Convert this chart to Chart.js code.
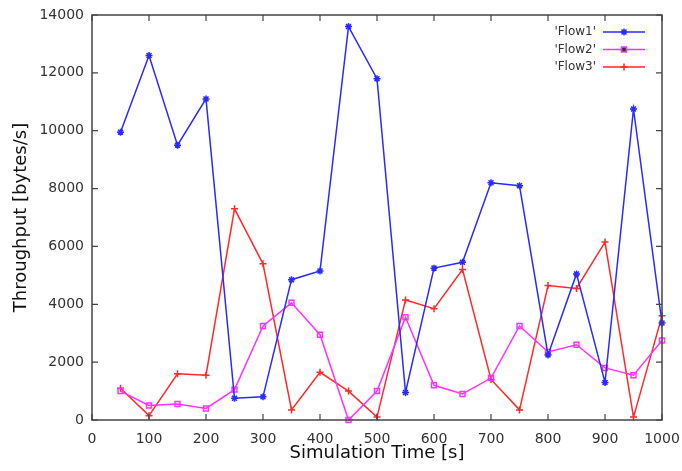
<!DOCTYPE html>
<html>
<head>
<meta charset="utf-8">
<script src="https://cdn.jsdelivr.net/npm/chart.js@4"></script>
<style>
  html, body { margin: 0; padding: 0; background: #fff; }
  #wrap { width: 682px; height: 471px; }
</style>
</head>
<body>
<div id="wrap"><canvas id="chartCanvas"></canvas></div>
<script>
var times = [50,100,150,200,250,300,350,400,450,500,550,600,650,700,750,800,850,900,950,1000];
var flow1 = [9950,12600,9500,11100,750,800,4850,5150,13600,11800,950,5250,5450,8200,8100,2250,5050,1300,10750,3350];
var flow2 = [1000,500,550,400,1050,3250,4050,2950,0,1000,3550,1200,900,1450,3250,2350,2600,1800,1550,2750];
var flow3 = [1100,150,1600,1550,7300,5400,350,1650,1000,100,4150,3850,5200,1400,350,4650,4550,6150,100,3600];
var seriesNames = ["'Flow1'", "'Flow2'", "'Flow3'"];

function pts(ys) {
  return times.map(function(t, i) { return { x: t, y: ys[i] }; });
}

// gnuplot style: box border, inward ticks on all four sides, legend inside top right
var gnuplotFrame = {
  id: 'gnuplotFrame',
  afterDraw: function(chart) {
    var c = chart.ctx, a = chart.chartArea;
    var xs = chart.scales.x, ys = chart.scales.y;
    c.save();
    c.strokeStyle = '#444';
    c.lineWidth = 1.5;
    c.strokeRect(a.left, a.top, a.right - a.left, a.bottom - a.top);
    c.lineWidth = 1.2;
    c.beginPath();
    xs.ticks.forEach(function(t) {
      var px = xs.getPixelForValue(t.value);
      c.moveTo(px, a.bottom); c.lineTo(px, a.bottom - 6);
      c.moveTo(px, a.top); c.lineTo(px, a.top + 6);
    });
    ys.ticks.forEach(function(t) {
      var py = ys.getPixelForValue(t.value);
      c.moveTo(a.left, py); c.lineTo(a.left + 6, py);
      c.moveTo(a.right, py); c.lineTo(a.right - 6, py);
    });
    c.stroke();

    // legend
    c.font = '12px "DejaVu Sans"';
    c.textAlign = 'right';
    c.textBaseline = 'middle';
    chart.data.datasets.forEach(function(ds, i) {
      var y = 32 + i * 17.5;
      c.fillStyle = '#333';
      c.fillText(seriesNames[i], 596, y);
      c.strokeStyle = ds.borderColor;
      c.lineWidth = 1.5;
      c.beginPath(); c.moveTo(603, y); c.lineTo(645, y); c.stroke();
      Chart.helpers.drawPoint(c, {
        pointStyle: ds.pointStyle, radius: 3.5, borderWidth: 1.5
      }, 624, y);
    });
    c.restore();
  }
};

var colors = ['#2a2aff', '#ff33ff', '#ff2a2a'];
var styles = ['star', 'rect', 'cross'];
var allSeries = [flow1, flow2, flow3];

var ctx = document.getElementById('chartCanvas').getContext('2d');
var chart = new Chart(ctx, {
  type: 'line',
  data: {
    datasets: allSeries.map(function(s, i) {
      return {
        label: seriesNames[i],
        data: pts(s),
        borderColor: colors[i],
        backgroundColor: 'rgba(0,0,0,0)',
        borderWidth: 1.5,
        pointStyle: styles[i],
        pointRadius: 3.5,
        pointBorderWidth: 1.5,
        pointBorderColor: colors[i],
        pointBackgroundColor: 'rgba(0,0,0,0)',
        tension: 0,
        clip: false
      };
    })
  },
  options: {
    responsive: true,
    maintainAspectRatio: false,
    animation: false,
    layout: { padding: { left: 0, top: 15, right: 20, bottom: 0 } },
    plugins: {
      legend: { display: false },
      tooltip: { enabled: false }
    },
    scales: {
      x: {
        type: 'linear',
        min: 0, max: 1000,
        grid: { display: false, drawTicks: false },
        border: { display: false },
        ticks: {
          stepSize: 100, color: '#333', padding: 11,
          font: { family: 'DejaVu Sans', size: 14 },
          maxRotation: 0,
          callback: function(v) { return String(v); }
        },
        title: {
          display: true, text: 'Simulation Time [s]', color: '#111',
          font: { family: 'DejaVu Sans', size: 18 }, padding: { top: 0, bottom: 7 }
        },
        afterFit: function(scale) {
          scale.height = 51;
          scale.paddingLeft = 0;
          scale.paddingRight = 0;
        }
      },
      y: {
        min: 0, max: 14000,
        grid: { display: false, drawTicks: false },
        border: { display: false },
        ticks: {
          stepSize: 2000, color: '#333', padding: 8,
          font: { family: 'DejaVu Sans', size: 14 },
          callback: function(v) { return String(v); }
        },
        title: {
          display: true, text: 'Throughput [bytes/s]', color: '#111',
          font: { family: 'DejaVu Sans', size: 18 }, padding: { top: 11, bottom: 0 }
        },
        afterFit: function(scale) {
          scale.width = 92;
          scale.paddingTop = 0;
          scale.paddingBottom = 0;
        }
      }
    }
  },
  plugins: [gnuplotFrame]
});
</script>
</body>
</html>
